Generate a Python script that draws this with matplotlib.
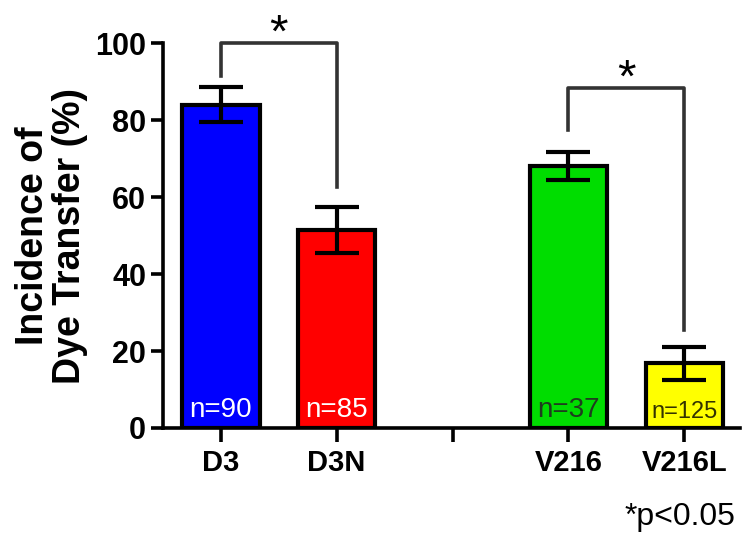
import matplotlib
matplotlib.use('Agg')
import matplotlib.pyplot as plt

# data
groups = ['D3', 'D3N', '', 'V216', 'V216L']
means = [84, 51.5, None, 68, 16.8]
sems = [4.6, 6.0, None, 3.6, 4.3]
ns = ['n=90', 'n=85', '', 'n=37', 'n=125']
colors = ['#0000ff', '#ff0000', 'none', '#00dd00', '#ffff00']
ncolors = ['white', 'white', 'none', '#1f3d1f', '#333300']

# significance brackets: (left idx, right idx, top, left leg end, right leg end, star y)
brackets = [(0, 1, 100, 91.5, 62.5, 102.3), (3, 4, 88.3, 77.5, 25.5, 90.5)]

plt.rcParams['font.family'] = ['Liberation Sans', 'DejaVu Sans']

fig = plt.figure(figsize=(7.43, 5.33), dpi=100)
ax = fig.add_axes([0.219, 0.197, 0.777, 0.722])

xs = [i for i in range(len(groups)) if means[i] is not None]
ax.bar(xs, [means[i] for i in xs], width=0.67, color=[colors[i] for i in xs],
       edgecolor='black', linewidth=3.0, zorder=2)
ax.errorbar(xs, [means[i] for i in xs], yerr=[sems[i] for i in xs], fmt='none',
            ecolor='black', elinewidth=3.0, capsize=16, capthick=3.0, zorder=3)

for i in xs:
    fs = 17 if len(ns[i]) > 4 else 20
    ax.text(i, 1.3, ns[i], ha='center', va='bottom', fontsize=fs, color=ncolors[i], zorder=4)

for a, b, top, la, lb, sy in brackets:
    ax.plot([a, a, b, b], [la, top, top, lb], color='#333333', lw=2.6, clip_on=False, zorder=1)
    ax.text((a + b) / 2, sy, '*', ha='center', va='center', fontsize=34, clip_on=False)

ax.set_xlim(-0.5, 4.48)
ax.set_ylim(0, 100)
ax.set_yticks([0, 20, 40, 60, 80, 100])
ax.set_xticks(range(len(groups)))
ax.set_xticklabels(groups, fontsize=21, fontweight='bold')
ax.tick_params(axis='y', labelsize=22, width=2.6, length=9, pad=3)
ax.tick_params(axis='x', width=2.6, length=10, pad=5)
for lab in ax.get_yticklabels():
    lab.set_fontweight('bold')
ax.spines['top'].set_visible(False)
ax.spines['right'].set_visible(False)
ax.spines['left'].set_linewidth(2.6)
ax.spines['bottom'].set_linewidth(2.6)

ax.set_ylabel('Incidence of\nDye Transfer (%)', fontsize=27, fontweight='bold', labelpad=5,
              linespacing=1.05)
fig.text(0.99, 0.03, '*p<0.05', ha='right', va='center', fontsize=23)

fig.savefig('out.png', dpi=100)
